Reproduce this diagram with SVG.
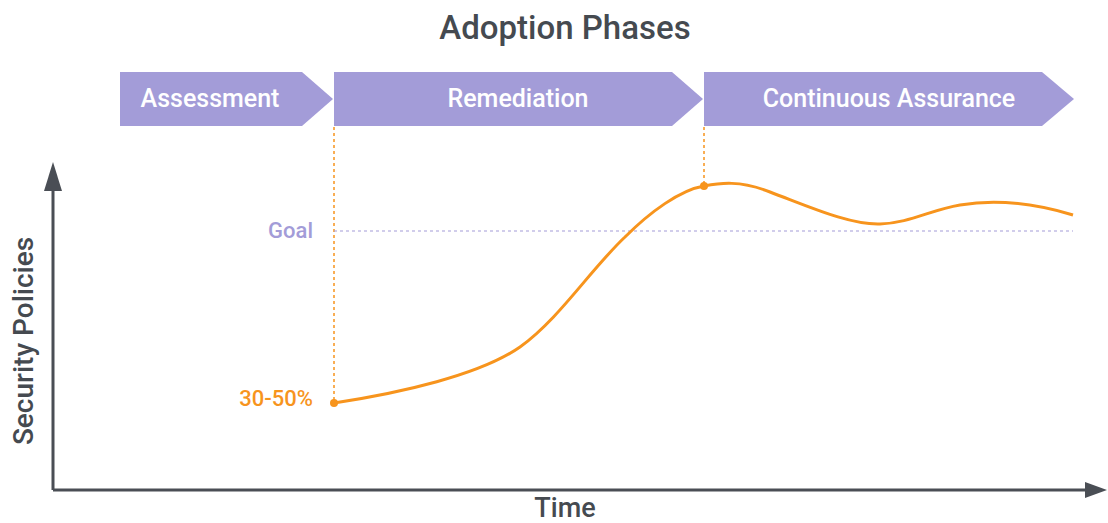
<svg xmlns="http://www.w3.org/2000/svg" width="1108" height="523" viewBox="0 0 1108 523">
<style>
.t{font-family:Roboto,"Liberation Sans",sans-serif;font-weight:500}
.phase{fill:#a39cd8}
.pl{fill:#ffffff;font-size:25px;text-anchor:middle}
.ax{stroke:#4a4e55;stroke-width:3;fill:none}
.ah{fill:#4a4e55}
.od{stroke:#f7941d;stroke-width:1.5;stroke-dasharray:3 3;fill:none}
</style>
<rect width="1108" height="523" fill="#ffffff"/>
<text class="t" x="565" y="39" font-size="33" fill="#454a50" text-anchor="middle">Adoption Phases</text>
<g id="phase-assessment">
<polygon class="phase" points="120,72 302,72 333,99 302,126 120,126"/>
<text class="t pl" x="210" y="107">Assessment</text>
</g>
<g id="phase-remediation">
<polygon class="phase" points="334,72 672,72 703,99 672,126 334,126"/>
<text class="t pl" x="518" y="107">Remediation</text>
</g>
<g id="phase-continuous">
<polygon class="phase" points="704,72 1042,72 1074,99 1042,126 704,126"/>
<text class="t pl" x="889" y="107">Continuous Assurance</text>
</g>
<g id="axes">
<line class="ax" x1="53" y1="490" x2="53" y2="188"/>
<polygon class="ah" points="53,162 62,191 44,191"/>
<line class="ax" x1="53" y1="490" x2="1088" y2="490"/>
<polygon class="ah" points="1107,490 1085,482 1085,498"/>
<text class="t" x="565" y="517" font-size="27" fill="#454a50" text-anchor="middle">Time</text>
<text class="t" transform="translate(33,341) rotate(-90)" font-size="28" fill="#454a50" text-anchor="middle">Security Policies</text>
</g>
<g id="connectors">
<line class="od" x1="334" y1="127" x2="334" y2="403"/>
<line class="od" x1="704" y1="127" x2="704" y2="186"/>
<line x1="334" y1="231" x2="1073" y2="231" stroke="#a39cd8" stroke-width="1.2" stroke-dasharray="3 3"/>
</g>
<g id="goal">
<text class="t" x="313" y="238" font-size="22" fill="#a39cd8" text-anchor="end">Goal</text>
</g>
<g id="curve">
<path d="M334,403 C400,393 480,375 520,347 C560,318 590,270 625,237 C650,212 680,190 704,186 C720,183 740,180 770,192 C810,207 850,225 880,224 C910,223 930,210 960,205 C995,199 1030,202 1073,215" fill="none" stroke="#f7941d" stroke-width="3"/>
<circle cx="334" cy="403" r="4" fill="#f7941d"/>
<circle cx="704" cy="186" r="4" fill="#f7941d"/>
<text class="t" x="313" y="406" font-size="22" fill="#f7941d" text-anchor="end">30-50%</text>
</g>
</svg>
